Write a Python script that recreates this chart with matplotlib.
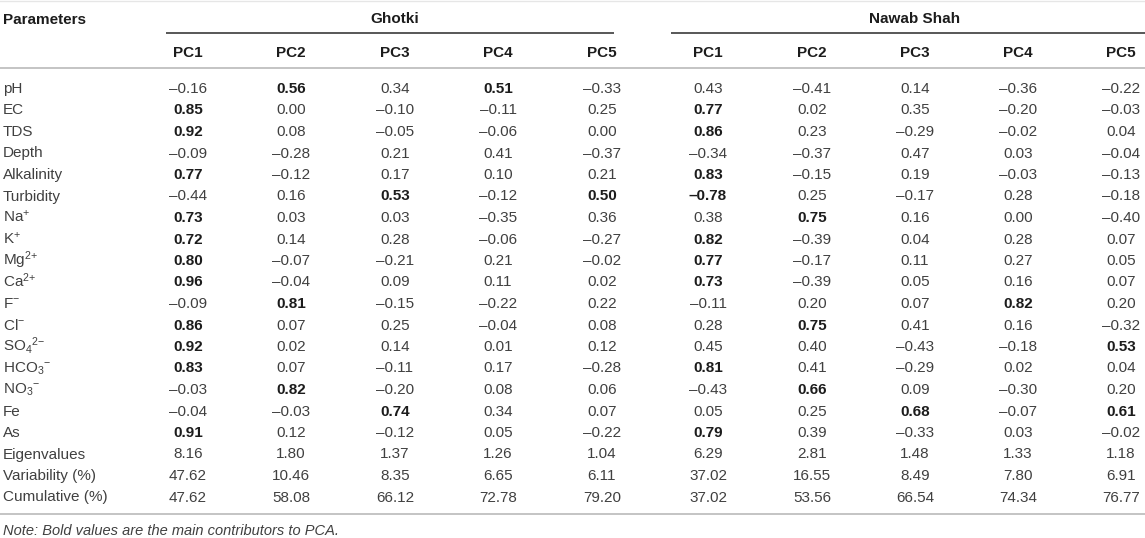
import matplotlib
matplotlib.use("Agg")
import matplotlib.pyplot as plt
import numpy as np

plt.rcParams["font.family"] = ["Liberation Sans", "DejaVu Sans"]
plt.rcParams["mathtext.fontset"] = "custom"
plt.rcParams["mathtext.rm"] = "Liberation Sans"
plt.rcParams["mathtext.it"] = "Liberation Sans:italic"
plt.rcParams["mathtext.bf"] = "Liberation Sans:bold"

# table content
sites = ["Ghotki", "Nawab Shah"]
components = ["PC1", "PC2", "PC3", "PC4", "PC5"]
parameters = ["pH", "EC", "TDS", "Depth", "Alkalinity", "Turbidity",
              r"Na$^{{+}}$", r"K$^{{+}}$", r"Mg$^{2{+}}$", r"Ca$^{2{+}}$", r"F$^{{-}}$",
              r"Cl$^{{-}}$", r"SO$_{4}{}^{2{-}}$", r"HCO$_{3}{}^{{-}}$", r"NO$_{3}{}^{{-}}$",
              "Fe", "As"]
summary_rows = ["Eigenvalues", "Variability (%)", "Cumulative (%)"]

ghotki_loadings = [
    [-0.16, 0.56, 0.34, 0.51, -0.33],
    [0.85, 0.00, -0.10, -0.11, 0.25],
    [0.92, 0.08, -0.05, -0.06, 0.00],
    [-0.09, -0.28, 0.21, 0.41, -0.37],
    [0.77, -0.12, 0.17, 0.10, 0.21],
    [-0.44, 0.16, 0.53, -0.12, 0.50],
    [0.73, 0.03, 0.03, -0.35, 0.36],
    [0.72, 0.14, 0.28, -0.06, -0.27],
    [0.80, -0.07, -0.21, 0.21, -0.02],
    [0.96, -0.04, 0.09, 0.11, 0.02],
    [-0.09, 0.81, -0.15, -0.22, 0.22],
    [0.86, 0.07, 0.25, -0.04, 0.08],
    [0.92, 0.02, 0.14, 0.01, 0.12],
    [0.83, 0.07, -0.11, 0.17, -0.28],
    [-0.03, 0.82, -0.20, 0.08, 0.06],
    [-0.04, -0.03, 0.74, 0.34, 0.07],
    [0.91, 0.12, -0.12, 0.05, -0.22],
]
ghotki_summary = [
    [8.16, 1.80, 1.37, 1.26, 1.04],
    [47.62, 10.46, 8.35, 6.65, 6.11],
    [47.62, 58.08, 66.12, 72.78, 79.20],
]

nawab_loadings = [
    [0.43, -0.41, 0.14, -0.36, -0.22],
    [0.77, 0.02, 0.35, -0.20, -0.03],
    [0.86, 0.23, -0.29, -0.02, 0.04],
    [-0.34, -0.37, 0.47, 0.03, -0.04],
    [0.83, -0.15, 0.19, -0.03, -0.13],
    [-0.78, 0.25, -0.17, 0.28, -0.18],
    [0.38, 0.75, 0.16, 0.00, -0.40],
    [0.82, -0.39, 0.04, 0.28, 0.07],
    [0.77, -0.17, 0.11, 0.27, 0.05],
    [0.73, -0.39, 0.05, 0.16, 0.07],
    [-0.11, 0.20, 0.07, 0.82, 0.20],
    [0.28, 0.75, 0.41, 0.16, -0.32],
    [0.45, 0.40, -0.43, -0.18, 0.53],
    [0.81, 0.41, -0.29, 0.02, 0.04],
    [-0.43, 0.66, 0.09, -0.30, 0.20],
    [0.05, 0.25, 0.68, -0.07, 0.61],
    [0.79, 0.39, -0.33, 0.03, -0.02],
]
nawab_summary = [
    [6.29, 2.81, 1.48, 1.33, 1.18],
    [37.02, 16.55, 8.49, 7.80, 6.91],
    [37.02, 53.56, 66.54, 74.34, 76.77],
]

note = "Note: Bold values are the main contributors to PCA."
bold_cut = 0.5  # loadings marked bold in the source

# layout (pixel units, y down)
W, H = 1145, 538
col_x = [[188, 291, 395, 498, 602], [708, 812, 915, 1018, 1121]]
span_x = [(166, 614), (671, 1145)]
row0, row_step = 88, 21.5
base = 5  # centre -> baseline offset
fs = 11
c_reg = "#404040"
c_bold = "#1c1c1c"


def fmt(v):
    return ("%.2f" % v).replace("-", "\u2013")


fig = plt.figure(figsize=(W / 100, H / 100), dpi=100)
ax = fig.add_axes([0, 0, 1, 1])
ax.set_xlim(0, W)
ax.set_ylim(H, 0)
ax.axis("off")

# header
ax.text(3, 19 + base, "Parameters", fontsize=fs, fontweight="bold", color=c_bold,
        ha="left", va="baseline")
for s, name in enumerate(sites):
    ax.text(col_x[s][2], 18 + base, name, fontsize=fs, fontweight="bold", color=c_bold,
            ha="center", va="baseline")
    ax.plot(span_x[s], [33, 33], color="#4a4a4a", lw=1.3, solid_capstyle="butt")
    for j, pc in enumerate(components):
        ax.text(col_x[s][j], 52 + base, pc, fontsize=fs, fontweight="bold", color=c_bold,
                ha="center", va="baseline")

ax.plot([0, W], [1, 1], color="#e6e6e6", lw=1.0)
ax.plot([0, W], [68, 68], color="#c4c4c4", lw=1.4)

labels = parameters + summary_rows
tables = [np.array(ghotki_loadings + ghotki_summary),
          np.array(nawab_loadings + nawab_summary)]
n_load = len(parameters)

for i, lab in enumerate(labels):
    y = row0 + i * row_step + base
    ax.text(3, y, lab, fontsize=fs, color=c_reg, ha="left", va="baseline")
    for s in range(2):
        for j in range(len(components)):
            v = tables[s][i, j]
            is_bold = i < n_load and abs(v) >= bold_cut
            ax.text(col_x[s][j], y, fmt(v), fontsize=fs,
                    fontweight="bold" if is_bold else "normal",
                    color=c_bold if is_bold else c_reg,
                    ha="center", va="baseline")

ax.plot([0, W], [514, 514], color="#c4c4c4", lw=1.4)
ax.text(3, 530 + base, note, fontsize=10.5, style="italic", color=c_reg,
        ha="left", va="baseline")

fig.savefig("out.png", dpi=100)
